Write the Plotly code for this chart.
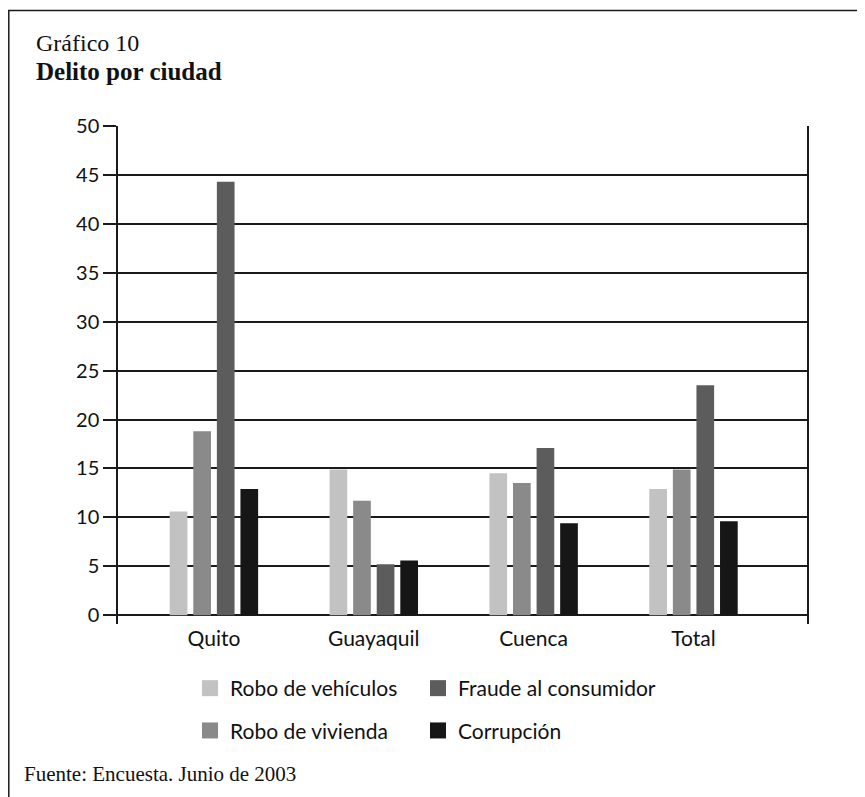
import plotly.graph_objects as go

# ---- data ----
ciudades = ["Quito", "Guayaquil", "Cuenca", "Total"]
series_names = ["Robo de vehículos", "Robo de vivienda", "Fraude al consumidor", "Corrupción"]
robo_vehiculos = [10.6, 14.9, 14.5, 12.9]
robo_vivienda = [18.8, 11.7, 13.5, 14.9]
fraude_consumidor = [44.3, 5.2, 17.1, 23.5]
corrupcion = [12.9, 5.6, 9.4, 9.6]
series_values = [robo_vehiculos, robo_vivienda, fraude_consumidor, corrupcion]
series_colors = ["#c2c2c2", "#8a8a8a", "#5c5c5c", "#161616"]
legend_column = ["legend", "legend", "legend2", "legend2"]
y_ticks = list(range(0, 55, 5))

# page is offset by the browser's default 8px body margin
OFF = 8
PAGE_W, PAGE_H = 865, 797
W, H = PAGE_W - OFF, PAGE_H - OFF
PL, PR, PT, PB = 118, 807, 126, 624          # plot area in page pixels
ML, MR, MT, MB = PL - OFF, PAGE_W - PR, PT - OFF, PAGE_H - PB
PW, PH = W - ML - MR, H - MT - MB


def px(x):
    return (x - PL) / PW


def py(y):
    return (PB - y) / PH


fig = go.Figure()
for name, vals, col in zip(series_names, series_values, series_colors):
    fig.add_trace(go.Bar(x=ciudades, y=vals, name=name, marker=dict(color=col, line=dict(width=0)),
                         showlegend=False))
# legend entries (square swatches)
for name, col, lg in zip(series_names, series_colors, legend_column):
    fig.add_trace(go.Scatter(x=[None], y=[None], mode="markers", name=name,
                             marker=dict(symbol="square", size=16, color=col, line=dict(width=0)),
                             legend=lg, legendgroup=name, showlegend=True))

sans = "Lato, 'Noto Sans', sans-serif"
serif = "'Liberation Serif', 'DejaVu Serif', serif"

legend_common = dict(orientation="v", yanchor="top", xanchor="left", bgcolor="rgba(0,0,0,0)",
                     borderwidth=0, tracegroupgap=12, itemwidth=30,
                     font=dict(family=sans, size=21, color="#111"))
fig.update_layout(
    width=W, height=H,
    margin=dict(l=ML, r=MR, t=MT, b=MB, pad=0),
    paper_bgcolor="white", plot_bgcolor="white",
    barmode="group", bargap=0.41, bargroupgap=0.25,
    legend=dict(x=px(190), y=py(668), **legend_common),
    legend2=dict(x=px(418), y=py(668), **legend_common),
    xaxis=dict(type="category", range=[-0.6, 3.71], showgrid=False, showline=False, zeroline=False,
               ticks="", tickfont=dict(family=sans, size=21, color="#111"), fixedrange=True),
    yaxis=dict(range=[-0.9, 50], tickmode="array", tickvals=y_ticks, ticktext=[str(v) for v in y_ticks],
               showgrid=True, gridcolor="#1a1a1a", gridwidth=1.5,
               zeroline=True, zerolinecolor="#1a1a1a", zerolinewidth=1.5,
               showline=True, linecolor="#1a1a1a", linewidth=1.5, mirror=True,
               ticks="outside", ticklen=13, tickwidth=1.5, tickcolor="#1a1a1a",
               tickfont=dict(family=sans, size=20, color="#111")),
    shapes=[dict(type="rect", xref="paper", yref="paper", x0=px(8.8), x1=1.3, y0=-0.6, y1=py(10.5),
                 line=dict(color="#1a1a1a", width=1.5), fillcolor="rgba(0,0,0,0)", layer="below")],
    annotations=[
        dict(text="Gráfico 10", xref="paper", yref="paper", x=px(34), y=py(43), xanchor="left",
             yanchor="middle", showarrow=False, font=dict(family=serif, size=24, color="#111")),
        dict(text="<b>Delito por ciudad</b>", xref="paper", yref="paper", x=px(34), y=py(72),
             xanchor="left", yanchor="middle", showarrow=False,
             font=dict(family=serif, size=25, color="#111")),
        dict(text="Fuente: Encuesta. Junio de 2003", xref="paper", yref="paper", x=px(22), y=py(774),
             xanchor="left", yanchor="middle", showarrow=False,
             font=dict(family=serif, size=21, color="#111")),
    ],
)

fig.write_html("out.html")
